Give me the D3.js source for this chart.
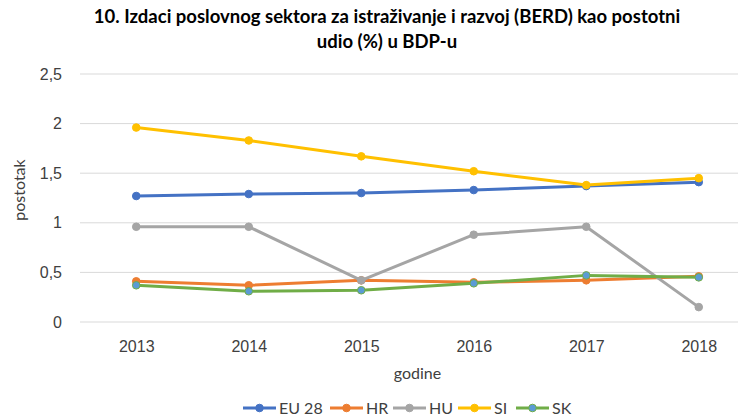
<!DOCTYPE html>
<html>
<head>
<meta charset="utf-8">
<script src="https://cdn.jsdelivr.net/npm/d3@7"></script>
<style>
  body { margin: 0; background: #fff; }
  svg { font-family: Lato, "Open Sans", sans-serif; }
</style>
</head>
<body>
<div id="chart"></div>
<script>
// Chart data
const years = ["2013", "2014", "2015", "2016", "2017", "2018"];
const seriesNames = ["EU 28", "HR", "HU", "SI", "SK"];
const eu28 = [1.27, 1.29, 1.30, 1.33, 1.37, 1.41];
const hr = [0.41, 0.37, 0.42, 0.40, 0.42, 0.46];
const hu = [0.96, 0.96, 0.42, 0.88, 0.96, 0.15];
const si = [1.96, 1.83, 1.67, 1.52, 1.38, 1.45];
const sk = [0.37, 0.31, 0.32, 0.39, 0.47, 0.45];
const yTicks = [0, 0.5, 1, 1.5, 2, 2.5];

const width = 738;
const height = 418;
const margin = {left: 80, right: -17, top: 74, bottom: 96};

const lineColors = ["#4472C4", "#ED7D31", "#A5A5A5", "#FFC000", "#70AD47"];
const markerFills = ["#4472C4", "#ED7D31", "#A5A5A5", "#FFC000", "#5B9BD5"];
const textColor = "#404040";

const series = seriesNames.map((name, i) => ({
  name: name,
  values: [eu28, hr, hu, si, sk][i],
  color: lineColors[i],
  fill: markerFills[i]
}));

const svg = d3.select("#chart")
  .append("svg")
  .attr("width", width)
  .attr("height", height);

// Scales
const xScale = d3.scalePoint()
  .domain(years)
  .range([margin.left, width - margin.right])
  .padding(0.5);

const yScale = d3.scaleLinear()
  .domain([0, 2.5])
  .range([height - margin.bottom, margin.top]);

// Gridlines
svg.append("g")
  .selectAll("line")
  .data(yTicks)
  .enter()
  .append("line")
    .attr("x1", margin.left)
    .attr("x2", width - margin.right)
    .attr("y1", d => yScale(d))
    .attr("y2", d => yScale(d))
    .attr("stroke", "#D9D9D9")
    .attr("stroke-width", 1);

// Y axis labels
const yAxis = svg.append("g")
  .attr("transform", `translate(${margin.left}, 0)`)
  .call(d3.axisLeft(yScale)
    .tickValues(yTicks)
    .tickSize(0)
    .tickPadding(18)
    .tickFormat(d => String(d).replace(".", ",")));
yAxis.select(".domain").remove();
yAxis.selectAll("text")
  .attr("font-size", "16px")
  .attr("fill", textColor);

// X axis labels
const xAxis = svg.append("g")
  .attr("transform", `translate(0, ${height - margin.bottom})`)
  .call(d3.axisBottom(xScale).tickSize(0).tickPadding(19));
xAxis.select(".domain").remove();
xAxis.selectAll("text")
  .attr("font-size", "16px")
  .attr("fill", textColor);

// Axis titles
svg.append("text")
  .attr("x", (margin.left + width - margin.right) / 2)
  .attr("y", 379)
  .attr("text-anchor", "middle")
  .attr("font-size", "16px")
  .attr("fill", textColor)
  .text("godine");

svg.append("text")
  .attr("transform", "translate(25, 190) rotate(-90)")
  .attr("text-anchor", "middle")
  .attr("font-size", "16px")
  .attr("fill", textColor)
  .text("postotak");

// Title
const title = svg.append("text")
  .attr("text-anchor", "middle")
  .attr("font-size", "18.5px")
  .attr("font-weight", "bold")
  .attr("fill", "#000");
title.append("tspan")
  .attr("x", 387).attr("y", 23)
  .text("10. Izdaci poslovnog sektora za istraživanje i razvoj (BERD) kao postotni");
title.append("tspan")
  .attr("x", 387).attr("y", 48)
  .text("udio (%) u BDP-u");

// Lines and markers
const line = d3.line()
  .x((d, i) => xScale(years[i]))
  .y(d => yScale(d));

series.forEach(s => {
  svg.append("path")
    .datum(s.values)
    .attr("fill", "none")
    .attr("stroke", s.color)
    .attr("stroke-width", 3)
    .attr("stroke-linejoin", "round")
    .attr("d", line);

  svg.append("g")
    .selectAll("circle")
    .data(s.values)
    .enter()
    .append("circle")
      .attr("cx", (d, i) => xScale(years[i]))
      .attr("cy", d => yScale(d))
      .attr("r", 3.8)
      .attr("fill", s.fill)
      .attr("stroke", s.color)
      .attr("stroke-width", 1);
});

// Legend
const legendX = [243, 330, 393, 458, 516];
const legend = svg.append("g");
series.forEach((s, i) => {
  const g = legend.append("g").attr("transform", `translate(${legendX[i]}, 408)`);
  g.append("line")
    .attr("x1", 0).attr("x2", 33)
    .attr("stroke", s.color)
    .attr("stroke-width", 3);
  g.append("circle")
    .attr("cx", 16.5).attr("r", 3.8)
    .attr("fill", s.fill)
    .attr("stroke", s.color)
    .attr("stroke-width", 1);
  g.append("text")
    .attr("x", 36)
    .attr("y", 5.5)
    .attr("font-size", "16px")
    .attr("fill", textColor)
    .text(s.name);
});
</script>
</body>
</html>
